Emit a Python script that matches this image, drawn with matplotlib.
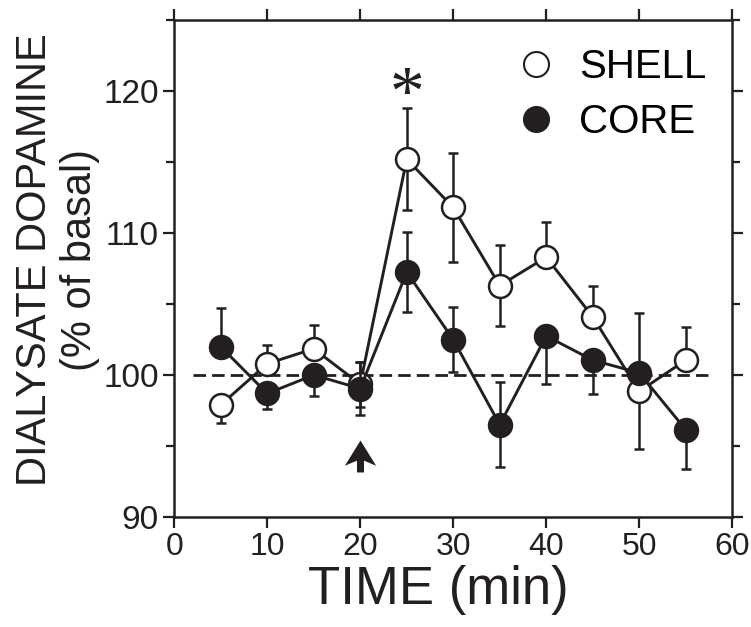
import numpy as np
import matplotlib.pyplot as plt
from matplotlib.lines import Line2D
from matplotlib.path import Path

plt.rcParams['font.family'] = ['Liberation Sans', 'DejaVu Sans']

# data
time_min = [5, 10, 15, 20, 25, 30, 35, 40, 45, 50, 55]
shell = [97.9, 100.8, 101.85, 99.35, 115.2, 111.8, 106.3, 108.3, 104.1, 98.85, 101.05]
shell_err_lo = [1.3, 0, 0, 1.6, 3.6, 3.85, 2.85, 0, 0, 4.05, 0]
shell_err_hi = [0, 1.3, 1.65, 1.6, 3.6, 3.85, 2.85, 2.5, 2.2, 0, 2.3]
core = [102.0, 98.7, 100.0, 99.05, 107.25, 102.5, 96.5, 102.75, 101.05, 100.15, 96.15]
core_err_lo = [0, 1.1, 1.45, 1.84, 2.8, 2.3, 3.0, 3.4, 2.4, 0, 2.8]
core_err_hi = [2.75, 0, 0, 1.84, 2.8, 2.3, 3.0, 0, 0, 4.25, 0]
basal = 100
basal_span = [2, 58]
injection_time = 20
arrow_y = 94.3
star_time = 25
star_y = 118.4

ink = '#231f20'

# stealth-style arrow used as a marker
arrow_path = Path([(0, 0.5), (0.49, -0.29), (0.11, -0.13), (0.11, -0.5),
                   (-0.11, -0.5), (-0.11, -0.13), (-0.49, -0.29), (0, 0.5)],
                  [Path.MOVETO] + [Path.LINETO] * 6 + [Path.CLOSEPOLY])

fig = plt.figure(figsize=(7.51, 6.27), dpi=100)
ax = fig.add_axes([0.232, 0.1754, 0.743, 0.7926])

ax.hlines(basal, basal_span[0], basal_span[1], colors=ink, lw=2,
          linestyles=(0, (4.5, 2.2)), zorder=1)

common = dict(color=ink, lw=2.1, elinewidth=1.8, capsize=3.5, capthick=1.8,
              markersize=16.5, markeredgewidth=1.8, markeredgecolor=ink)
ax.errorbar(time_min, shell, yerr=[shell_err_lo, shell_err_hi], fmt='-o',
            markerfacecolor='white', zorder=2, **common)
ax.errorbar(time_min, core, yerr=[core_err_lo, core_err_hi], fmt='-o',
            markerfacecolor=ink, zorder=3, **common)

ax.plot([injection_time], [arrow_y], ls='none', marker=arrow_path, markersize=23,
        color=ink, markeredgewidth=0)

ax.text(star_time, star_y, '*', family='Liberation Serif', fontsize=50,
        ha='center', va='baseline', color=ink)

ax.set_xlim(0, 60)
ax.set_ylim(90, 125)
ax.set_xticks(np.arange(0, 61, 10))
ax.set_yticks([90, 100, 110, 120])
ax.set_yticks([95, 105, 115, 125], minor=True)
ax.tick_params(which='both', direction='out', top=True, right=True,
               width=1.6, color=ink, labelcolor=ink, labelsize=24)
ax.tick_params(axis='x', labelsize=23)
ax.tick_params(which='major', length=8, pad=3)
ax.tick_params(which='minor', length=6)
ax.tick_params(axis='x', which='minor', top=False, bottom=False)
for s in ax.spines.values():
    s.set_linewidth(1.8)
    s.set_color(ink)

handles = [Line2D([], [], ls='none', marker='o', markersize=18, markeredgewidth=1.5,
                  markeredgecolor=ink, markerfacecolor='white'),
           Line2D([], [], ls='none', marker='o', markersize=18, markeredgewidth=1.5,
                  markeredgecolor=ink, markerfacecolor=ink)]
ax.legend(handles, ['SHELL', 'CORE'], loc='upper left', bbox_to_anchor=(0.613, 0.944),
          frameon=False, fontsize=29, handlelength=1.0, handletextpad=0.55,
          labelspacing=0.43, borderpad=0, borderaxespad=0)

fig.text(438 / 751, 1 - 590 / 627, 'TIME (min)', fontsize=38, ha='center', va='center', color=ink)
fig.text(35 / 751, 1 - 260 / 627, 'DIALYSATE DOPAMINE', fontsize=30, rotation=90,
         ha='center', va='center', color=ink)
fig.text(80 / 751, 1 - 260 / 627, '(% of basal)', fontsize=30, rotation=90,
         ha='center', va='center', color=ink)

fig.savefig('out.png', dpi=100)
